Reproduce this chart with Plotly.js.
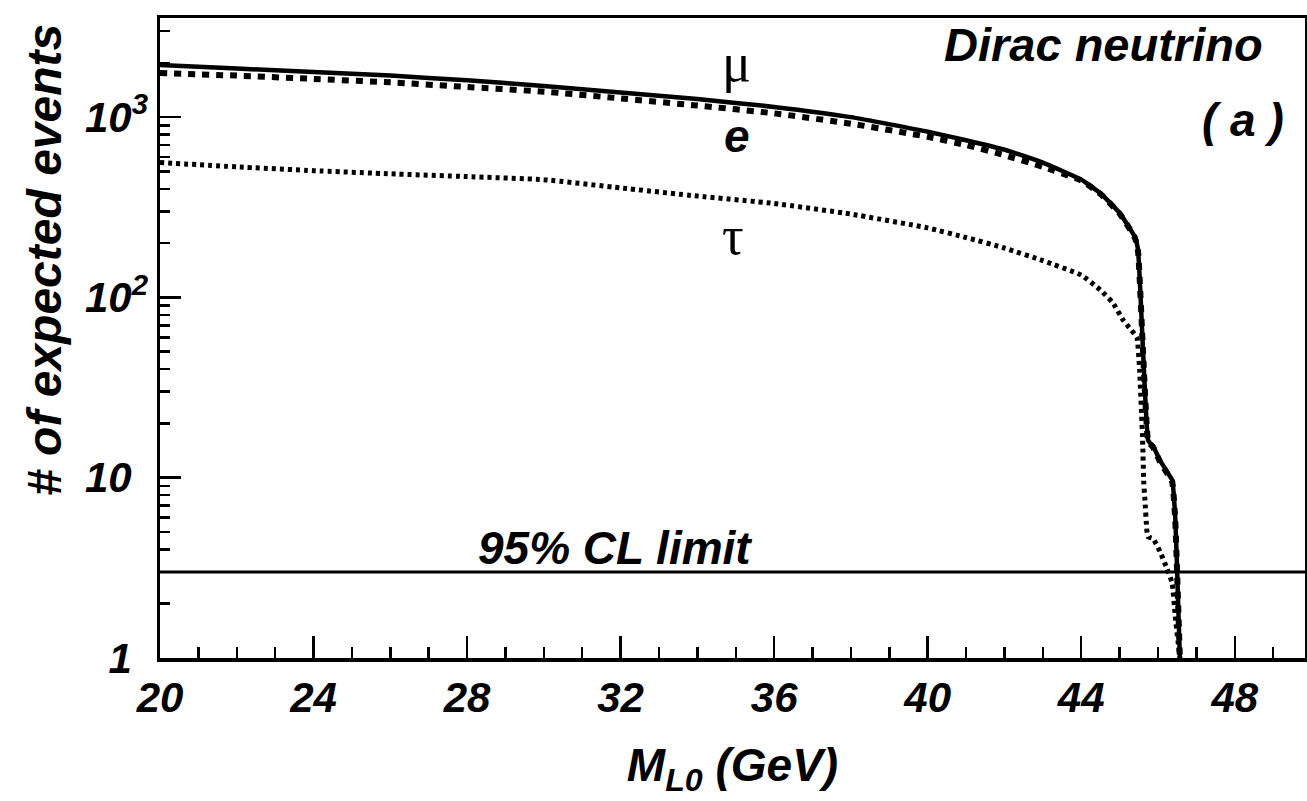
<!DOCTYPE html>
<html>
<head>
<meta charset="utf-8">
<script src="https://cdn.plot.ly/plotly-3.0.1.min.js"></script>
<style>
html,body{margin:0;padding:0;background:#fff;}
#chart{width:1307px;height:801px;}
</style>
</head>
<body>
<div id="chart"></div>
<script>
// ---- data ----
const muMass = [20, 22, 24, 26, 28, 30, 32, 34, 36, 38, 40, 41, 42, 43, 44, 44.5, 45, 45.4, 45.48, 45.61, 45.74, 45.79, 45.87, 46.05, 46.26, 46.37, 46.45, 46.5, 46.57];
const muEvents = [1945, 1860, 1780, 1700, 1600, 1490, 1370, 1260, 1140, 1000, 830, 745, 660, 560, 450, 378, 294, 216, 183, 51, 16.2, 15.6, 15, 12.5, 10.6, 9.7, 6, 3, 1];

const eMass = [20, 22, 24, 26, 28, 30, 32, 34, 36, 38, 40, 41, 42, 43, 44, 44.5, 45, 45.4, 45.48, 45.61, 45.74, 45.79, 45.87, 46.05, 46.26, 46.37, 46.45, 46.5, 46.57];
const eEvents = [1757, 1700, 1630, 1560, 1470, 1385, 1270, 1160, 1050, 920, 778, 700, 615, 530, 445, 375, 292, 214, 180, 50, 16, 15.4, 14.8, 12.3, 10.4, 9.5, 5.8, 2.9, 1];

const tauMass = [20, 22, 24, 26, 28, 30, 32, 34, 36, 38, 40, 41, 42, 43, 44, 44.5, 44.83, 45.09, 45.3, 45.45, 45.52, 45.6, 45.63, 45.66, 45.71, 45.74, 45.87, 46.05, 46.23, 46.37, 46.45, 46.57];
const tauEvents = [560, 530, 505, 485, 468, 450, 405, 365, 332, 290, 243, 215, 188, 160, 133, 110, 93, 75, 66, 60, 40, 16, 9.3, 7.5, 5.1, 4.7, 4.6, 3.9, 3.15, 2.6, 1.7, 1];

const clLimit = 3.0;
const xRange = [20, 49.83];
const yLogRange = [0, 3.55];

const xTickVals = [20, 24, 28, 32, 36, 40, 44, 48];
const yTickVals = [1, 10, 100, 1000];
const yTickText = ['1<sup>\u2007</sup>', '10<sup>\u2007</sup>', '10<sup>2</sup>', '10<sup>3</sup>'];
const yMinorVals = [2,3,4,5,6,7,8,9,20,30,40,50,60,70,80,90,200,300,400,500,600,700,800,900,2000,3000];

const FONT = 'Liberation Sans, Arial, sans-serif';
const SERIF = 'Liberation Serif, Times New Roman, serif';

const traces = [
  {x: muMass, y: muEvents, mode: 'lines', name: 'μ',
   line: {color: '#000', width: 4.5, shape: 'spline', smoothing: 0.4}},
  {x: eMass, y: eEvents, mode: 'lines', name: 'e',
   line: {color: '#000', width: 6, dash: '7px,7px', shape: 'spline', smoothing: 0.4}},
  {x: tauMass, y: tauEvents, mode: 'lines', name: 'τ',
   line: {color: '#000', width: 5, dash: '4px,4px', shape: 'spline', smoothing: 0.4}},
  {x: xRange, y: [clLimit, clLimit], mode: 'lines', name: '95% CL limit',
   line: {color: '#000', width: 3}}
];

const layout = {
  width: 1307, height: 801,
  margin: {l: 160, r: 2, t: 18, b: 143},
  paper_bgcolor: '#fff', plot_bgcolor: '#fff',
  showlegend: false,
  font: {family: FONT, color: '#000'},
  xaxis: {
    range: xRange, showgrid: false, zeroline: false,
    showline: true, mirror: true, linecolor: '#000', linewidth: 3.5,
    ticks: 'inside', ticklen: 22, tickwidth: 2.5, tickcolor: '#000',
    tickmode: 'array', tickvals: xTickVals,
    tickfont: {family: FONT, size: 42, weight: 'bold', style: 'italic'},
    minor: {dtick: 1, ticks: 'inside', ticklen: 11, tickwidth: 2.5, tickcolor: '#000', showgrid: false},
    title: {text: 'M<sub>L0</sub> (GeV)', standoff: 30,
            font: {family: FONT, size: 46, weight: 'bold', style: 'italic'}}
  },
  yaxis: {
    type: 'log', range: yLogRange, showgrid: false, zeroline: false,
    showline: true, mirror: true, linecolor: '#000', linewidth: 3.5,
    ticks: 'inside', ticklen: 21, tickwidth: 2.5, tickcolor: '#000',
    tickmode: 'array', tickvals: yTickVals, ticktext: yTickText,
    tickfont: {family: FONT, size: 42, weight: 'bold', style: 'italic'},
    minor: {tickmode: 'array', tickvals: yMinorVals, ticks: 'inside', ticklen: 10, tickwidth: 2.5, tickcolor: '#000', showgrid: false}
  },
  annotations: [
    {text: '# of expected events', xref: 'paper', yref: 'paper', x: -0.1004, y: 0.622,
     textangle: -90, showarrow: false, xanchor: 'center', yanchor: 'middle',
     font: {family: FONT, size: 48, weight: 'bold', style: 'italic'}},
    {text: 'Dirac neutrino', xref: 'paper', yref: 'paper', x: 0.824, y: 0.958,
     showarrow: false, xanchor: 'center', yanchor: 'middle',
     font: {family: FONT, size: 47, weight: 'bold', style: 'italic'}},
    {text: '( a )', xref: 'paper', yref: 'paper', x: 0.946, y: 0.841,
     showarrow: false, xanchor: 'center', yanchor: 'middle',
     font: {family: FONT, size: 46, weight: 'bold', style: 'italic'}},
    {text: '95% CL limit', xref: 'paper', yref: 'paper', x: 0.397, y: 0.172,
     showarrow: false, xanchor: 'center', yanchor: 'middle',
     font: {family: FONT, size: 46, weight: 'bold', style: 'italic'}},
    {text: 'μ', xref: 'x', yref: 'y', x: 35.03, y: 3.30,
     showarrow: false, xanchor: 'center', yanchor: 'middle',
     font: {family: SERIF, size: 54}},
    {text: 'e', xref: 'x', yref: 'y', x: 35.03, y: 2.895,
     showarrow: false, xanchor: 'center', yanchor: 'middle',
     font: {family: FONT, size: 46, weight: 'bold', style: 'italic'}},
    {text: 'τ', xref: 'x', yref: 'y', x: 34.92, y: 2.34,
     showarrow: false, xanchor: 'center', yanchor: 'middle',
     font: {family: SERIF, size: 54}}
  ]
};

Plotly.newPlot('chart', traces, layout, {displayModeBar: false, staticPlot: true});
</script>
</body>
</html>
